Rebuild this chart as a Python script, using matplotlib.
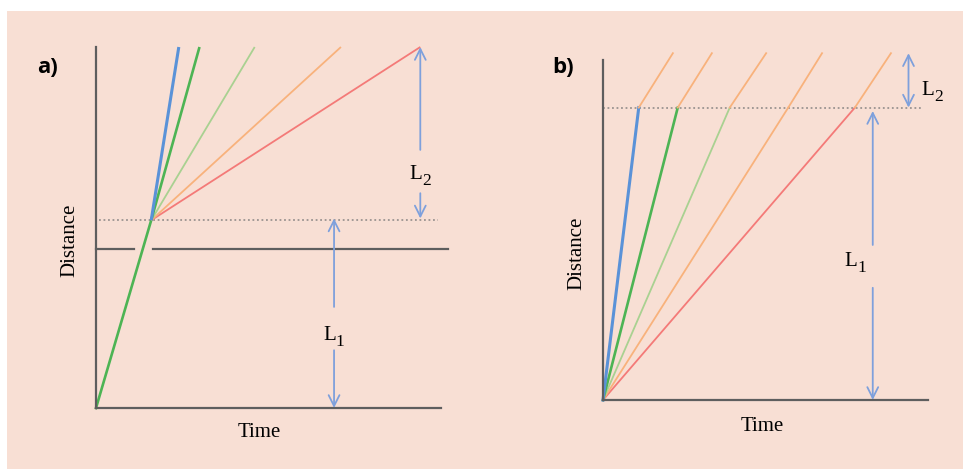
import matplotlib.pyplot as plt
from matplotlib.patches import Rectangle

# time / distance in arbitrary units (axis length = 100)
colors = ['#f47a78', '#f8b27c', '#a9d191', '#4db454', '#5a92d8']  # red, orange, light green, green, blue
widths = [1.3, 1.3, 1.3, 1.9, 2.2]

# panel a: all cars cross L1 together, then spread out in L2
a_junction_t = 16
a_junction_d = 52
a_layer_d = 44
a_top_d = 100
a_end_t = [94, 71, 46, 30, 24]
a_layer_gap = (11, 16.5)

# panel b: different speeds through L1, common speed through L2
b_break_d = 86
b_top_d = 102
b_break_t = [77.5, 57, 39, 23, 11]
b_top_t = [88.6, 67.4, 50.2, 33.5, 21.5]

bg = '#f8dfd4'
axis_col = '#5e5e5e'
arrow_col = '#7ea0dc'
dot_col = '#9a9390'

fig = plt.figure(figsize=(9.63, 4.69), dpi=100, facecolor='white')
fig.patches.append(Rectangle((7 / 963, 0), 1, (469 - 11) / 469, transform=fig.transFigure,
                             facecolor=bg, edgecolor='none', zorder=-10))

ax1 = fig.add_axes([96 / 963, 61 / 469, 345 / 963, 361 / 469])
ax2 = fig.add_axes([603 / 963, 69 / 469, 325 / 963, 340 / 469])

for ax in (ax1, ax2):
    ax.set_xlim(0, 100)
    ax.set_ylim(0, 100)
    ax.patch.set_visible(False)
    ax.set_xticks([])
    ax.set_yticks([])
    for s in ['top', 'right']:
        ax.spines[s].set_visible(False)
    for s in ['left', 'bottom']:
        ax.spines[s].set_color(axis_col)
        ax.spines[s].set_linewidth(1.6)

serif = ['Liberation Serif', 'DejaVu Serif']
bold_sans = ['Open Sans', 'DejaVu Sans']
arrow_kw = dict(arrowstyle='->,head_length=0.6,head_width=0.3', color=arrow_col, lw=1.3,
                shrinkA=0, shrinkB=0, mutation_scale=13)


def arrow(ax, x, d_from, d_to, style=None):
    kw = dict(arrow_kw)
    if style:
        kw['arrowstyle'] = style
    ax.annotate('', xy=(x, d_to), xytext=(x, d_from), arrowprops=kw, annotation_clip=False)


def layer_label(ax, x, y, digit):
    ax.annotate('L', xy=(x, y), xytext=(-8, 1), textcoords='offset points', family=serif,
                fontsize=15, ha='left', va='center', annotation_clip=False)
    ax.annotate(digit, xy=(x, y), xytext=(1.2, -3.5), textcoords='offset points', family=serif,
                fontsize=12.5, ha='left', va='center', annotation_clip=False)


# ---- panel a ----
ax1.plot([0, a_layer_gap[0]], [a_layer_d, a_layer_d], color=axis_col, lw=1.6, clip_on=False)
ax1.plot([a_layer_gap[1], 102], [a_layer_d, a_layer_d], color=axis_col, lw=1.6, clip_on=False)
ax1.plot([1, 99], [a_junction_d, a_junction_d], color=dot_col, lw=1.3, ls=(0, (1, 1.5)), clip_on=False)

# shared path up to the junction
ax1.plot([0, a_junction_t], [0, a_junction_d], color=colors[3], lw=widths[3], clip_on=False)
for t, c, w in zip(a_end_t, colors, widths):
    ax1.plot([a_junction_t, t], [a_junction_d, a_top_d], color=c, lw=w, clip_on=False,
             solid_capstyle='butt')

arrow(ax1, 94, 71.5, 100)
arrow(ax1, 94, 59.5, 52.5)
layer_label(ax1, 94, 64.3, '2')
arrow(ax1, 69, 28, 52.5)
arrow(ax1, 69, 16, 0)
layer_label(ax1, 69, 19.7, '1')

ax1.text(-7.5, 46.5, 'Distance', family=serif, fontsize=15, rotation=90, ha='center', va='center')
ax1.text(47.2, -6.9, 'Time', family=serif, fontsize=15, ha='center', va='center')
ax1.text(-14.2, 94.4, 'a)', family=bold_sans, fontweight='bold', fontsize=16,
         ha='center', va='center')

# ---- panel b ----
ax2.plot([0, 98], [b_break_d, b_break_d], color=dot_col, lw=1.3, ls=(0, (1, 1.5)), clip_on=False)
for tb, tt, c, w in zip(b_break_t, b_top_t, colors, widths):
    ax2.plot([0, tb], [0, b_break_d], color=c, lw=w, clip_on=False)
    ax2.plot([tb, tt], [b_break_d, b_top_d], color=colors[1], lw=1.3, clip_on=False)

arrow(ax2, 94, b_break_d, b_top_d, style='<->,head_length=0.6,head_width=0.3')
layer_label(ax2, 101.5, 90.6, '2')
arrow(ax2, 83, 45.6, 85)
arrow(ax2, 83, 33, 0)
layer_label(ax2, 77.8, 40.3, '1')

ax2.text(-8, 43.2, 'Distance', family=serif, fontsize=15, rotation=90, ha='center', va='center')
ax2.text(49, -7.9, 'Time', family=serif, fontsize=15, ha='center', va='center')
ax2.text(-12.3, 97.8, 'b)', family=bold_sans, fontweight='bold', fontsize=16,
         ha='center', va='center')

fig.savefig('out.png', dpi=100, facecolor=fig.get_facecolor())
